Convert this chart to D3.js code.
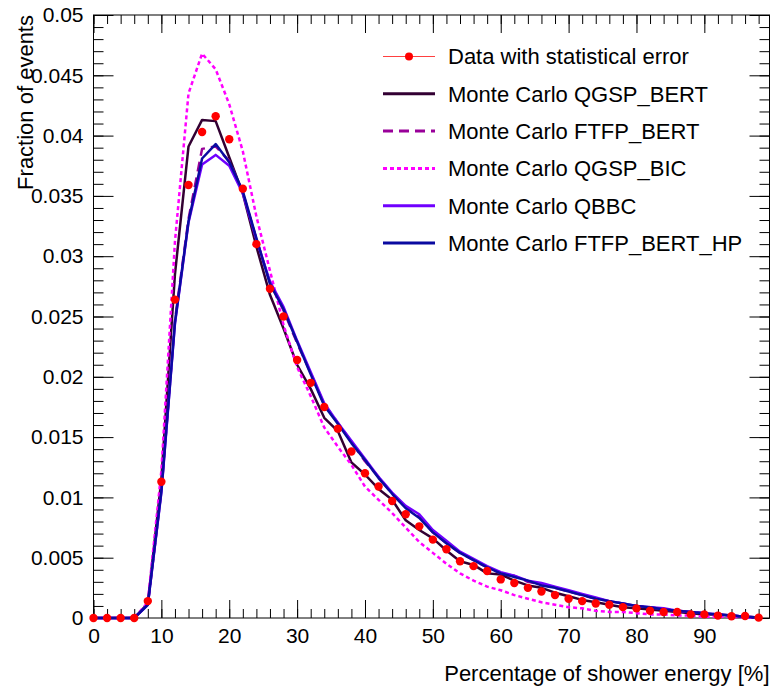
<!DOCTYPE html>
<html>
<head>
<meta charset="utf-8">
<script src="https://cdn.jsdelivr.net/npm/d3@7"></script>
<style>
  body { margin: 0; background: #fff; }
  text { font-family: "Liberation Sans", Arial, Helvetica, sans-serif; }
</style>
</head>
<body>
<svg id="vis" width="778" height="687"></svg>
<script>
// bin centres (% of shower energy)
var energy = [0,2,4,6,8,10,12,14,16,18,20,22,24,26,28,30,32,34,36,38,40,42,44,46,48,
  50,52,54,56,58,60,62,64,66,68,70,72,74,76,78,80,82,84,86,88,90,92,94,96,98];

var dataVals = [0,0,0,0,0.0014,0.0113,0.0264,0.0359,0.0403,0.0416,0.0397,0.0356,0.0310,0.0273,0.0250,
  0.0214,0.0195,0.0175,0.0157,0.0138,0.0120,0.0109,0.0097,0.0086,0.0076,0.0065,0.0057,0.0047,0.0043,0.0039,
  0.0032,0.0029,0.0025,0.0022,0.0019,0.0016,0.0014,0.0012,0.0011,0.0009,0.0008,0.0006,0.0005,0.0005,0.0003,
  0.0003,0.0002,0.00015,0.00017,0.00003];
var dataErr = [0,0,0,0,0.0001,0.0002,0.0003,0.0003,0.0003,0.0003,0.0003,0.0003,0.0002,0.0002,0.0002,
  0.0002,0.0002,0.0002,0.0002,0.0002,0.0002,0.0001,0.0001,0.0001,0.0001,0.0001,0.0001,0.0001,0.0001,0.0001,
  0.0001,0.0001,0.0001,0.0001,0.0001,0.0001,0.0001,0.0001,0.0001,0.0001,0.0001,0.0001,0.0001,0.0001,0.0001,
  0.0001,0.0001,0.0001,0.0001,0.0001];

var qgspBert = [0,0,0,0,0.0012,0.0115,0.0285,0.0391,0.0413,0.0412,0.0382,0.0352,0.0308,0.0268,0.0240,
  0.0210,0.0190,0.0166,0.0155,0.0129,0.0119,0.0107,0.0098,0.0081,0.0073,0.0066,0.0056,0.0047,0.0044,0.0037,
  0.0036,0.0031,0.0027,0.0025,0.0021,0.0018,0.0015,0.0013,0.0011,0.0009,0.0008,0.0007,0.0006,0.0005,0.0004,
  0.0003,0.0003,0.0002,0.0001,0.00005];
var ftfpBert = [0,0,0,0,0.0011,0.0106,0.0247,0.0331,0.0389,0.0391,0.0379,0.0353,0.0314,0.0278,0.0255,
  0.0228,0.0203,0.0177,0.0162,0.0146,0.0130,0.0117,0.0103,0.0092,0.0084,0.0071,0.0062,0.0054,0.0048,0.0042,
  0.0037,0.0035,0.0030,0.0028,0.0025,0.0022,0.0019,0.0016,0.0014,0.0012,0.0010,0.0009,0.0007,0.0006,0.0005,
  0.0004,0.0003,0.0002,0.0001,0.00005];
var qgspBic = [0,0,0,0,0.0013,0.0122,0.0312,0.0435,0.0468,0.0455,0.0426,0.0387,0.0333,0.0288,0.0243,
  0.0208,0.0184,0.0158,0.0142,0.0127,0.0109,0.0098,0.0087,0.0075,0.0063,0.0054,0.0045,0.0037,0.0031,0.0026,
  0.0023,0.0019,0.0016,0.0013,0.0011,0.0009,0.0008,0.0006,0.0005,0.0005,0.0004,0.0003,0.0003,0.0002,0.0002,
  0.0001,0.0001,0.0001,0.00005,0];
var qbbc = [0,0,0,0,0.0011,0.0104,0.0244,0.0328,0.0376,0.0384,0.0375,0.0352,0.0314,0.0279,0.0258,
  0.0230,0.0204,0.0178,0.0162,0.0147,0.0132,0.0117,0.0104,0.0093,0.0086,0.0073,0.0064,0.0055,0.0049,0.0043,
  0.0038,0.0035,0.0031,0.0029,0.0026,0.0023,0.0020,0.0017,0.0014,0.0012,0.0010,0.0009,0.0008,0.0006,0.0005,
  0.0004,0.0003,0.0002,0.0001,0.00005];
var ftfpBertHp = [0,0,0,0,0.0011,0.0105,0.0245,0.0329,0.0381,0.0393,0.0378,0.0354,0.0315,0.0277,0.0256,
  0.0229,0.0202,0.0176,0.0161,0.0145,0.0131,0.0116,0.0103,0.0091,0.0083,0.0071,0.0062,0.0054,0.0048,0.0042,
  0.0037,0.0034,0.0031,0.0027,0.0025,0.0022,0.0019,0.0016,0.0014,0.0012,0.0010,0.0009,0.0007,0.0006,0.0005,
  0.0004,0.0003,0.0002,0.0001,0.00005];

var seriesNames = ["Monte Carlo QGSP_BERT", "Monte Carlo FTFP_BERT", "Monte Carlo QGSP_BIC",
  "Monte Carlo QBBC", "Monte Carlo FTFP_BERT_HP"];
var dataName = "Data with statistical error";

var xTickVals = [0,10,20,30,40,50,60,70,80,90];
var xTickLabels = ["0","10","20","30","40","50","60","70","80","90"];
var yTickVals = [0,0.005,0.01,0.015,0.02,0.025,0.03,0.035,0.04,0.045,0.05];
var yTickLabels = ["0","0.005","0.01","0.015","0.02","0.025","0.03","0.035","0.04","0.045","0.05"];
var xTitle = "Percentage of shower energy [%]";
var yTitle = "Fraction of events";

// layout
var svg = d3.select("#vis"),
    L = 93.5, R = 769.5, T = 15, B = 618;

var x = d3.scaleLinear().domain([0, 99.6]).range([L, R]);
var y = d3.scaleLinear().domain([0, 0.05]).range([B, T]);

var xMinor = d3.range(0, 99, 2);
var yMinor = d3.range(0, 0.0505, 0.001);

function tickAxis(axis, tr, size, vals, fmt, pad) {
  var g = svg.append("g").attr("transform", tr)
    .call(axis.tickValues(vals).tickSize(size).tickPadding(pad || 3).tickFormat(fmt || ""));
  g.select(".domain").remove();
  g.selectAll("line").attr("stroke", "#000").attr("stroke-width", 1);
  return g;
}

// bottom
var gx = tickAxis(d3.axisBottom(x), "translate(0," + B + ")", -18, xTickVals,
  function(d, i) { return xTickLabels[i]; }, 10);
gx.selectAll("text").attr("font-size", 21).attr("fill", "#000");
tickAxis(d3.axisBottom(x), "translate(0," + B + ")", -9, xMinor);
// top
tickAxis(d3.axisTop(x), "translate(0," + T + ")", -18, xTickVals);
tickAxis(d3.axisTop(x), "translate(0," + T + ")", -9, xMinor);
// left
var gy = tickAxis(d3.axisLeft(y), "translate(" + L + ",0)", -20, yTickVals,
  function(d, i) { return yTickLabels[i]; }, 10);
gy.selectAll("text").attr("font-size", 21).attr("fill", "#000");
tickAxis(d3.axisLeft(y), "translate(" + L + ",0)", -10, yMinor);
// right
tickAxis(d3.axisRight(y), "translate(" + R + ",0)", -20, yTickVals);
tickAxis(d3.axisRight(y), "translate(" + R + ",0)", -10, yMinor);

svg.append("rect").attr("x", L).attr("y", T).attr("width", R - L).attr("height", B - T)
  .attr("fill", "none").attr("stroke", "#000").attr("stroke-width", 1);

// titles
svg.append("text").attr("x", R).attr("y", 681).attr("text-anchor", "end")
  .attr("font-size", 22).text(xTitle);
svg.append("text").attr("transform", "translate(33," + T + ") rotate(-90)")
  .attr("text-anchor", "end").attr("font-size", 22).text(yTitle);

// MC curves
var styles = [
  { vals: qgspBert,   color: "#330033", dash: null,   w: 2.5 },
  { vals: ftfpBert,   color: "#990099", dash: "10,6", w: 2.5 },
  { vals: qgspBic,    color: "#ff00ff", dash: "4,3",  w: 2.5 },
  { vals: qbbc,       color: "#7000ff", dash: null,   w: 2.5 },
  { vals: ftfpBertHp, color: "#0a0aa0", dash: null,   w: 2.5 }
];

var line = d3.line().x(function(d, i) { return x(energy[i]); }).y(function(d) { return y(d); });

styles.forEach(function(s) {
  svg.append("path").datum(s.vals).attr("d", line)
    .attr("fill", "none").attr("stroke", s.color).attr("stroke-width", s.w)
    .attr("stroke-dasharray", s.dash).attr("stroke-linejoin", "round");
});

// data points with error bars
var pts = svg.append("g");
pts.selectAll("line").data(dataVals).enter().append("line")
  .attr("x1", function(d, i) { return x(energy[i]); })
  .attr("x2", function(d, i) { return x(energy[i]); })
  .attr("y1", function(d, i) { return y(d - dataErr[i]); })
  .attr("y2", function(d, i) { return y(d + dataErr[i]); })
  .attr("stroke", "#ff0000").attr("stroke-width", 1);
pts.selectAll("circle").data(dataVals).enter().append("circle")
  .attr("cx", function(d, i) { return x(energy[i]); })
  .attr("cy", function(d) { return y(d); })
  .attr("r", 4.2).attr("fill", "#ff0000");

// legend
var leg = svg.append("g");
var rowY = function(i) { return 56.5 + i * 37.3; };
leg.append("line").attr("x1", 383).attr("x2", 435).attr("y1", rowY(0)).attr("y2", rowY(0))
  .attr("stroke", "#ff4040").attr("stroke-width", 1);
leg.append("circle").attr("cx", 409).attr("cy", rowY(0)).attr("r", 4).attr("fill", "#ff0000");
leg.append("text").attr("x", 448).attr("y", rowY(0)).attr("dy", "0.36em")
  .attr("font-size", 22).text(dataName);
styles.forEach(function(s, i) {
  var yy = rowY(i + 1);
  leg.append("line").attr("x1", 383).attr("x2", 435).attr("y1", yy).attr("y2", yy)
    .attr("stroke", s.color).attr("stroke-width", 3).attr("stroke-dasharray", s.dash);
  leg.append("text").attr("x", 448).attr("y", yy).attr("dy", "0.36em")
    .attr("font-size", 22).text(seriesNames[i]);
});
</script>
</body>
</html>
